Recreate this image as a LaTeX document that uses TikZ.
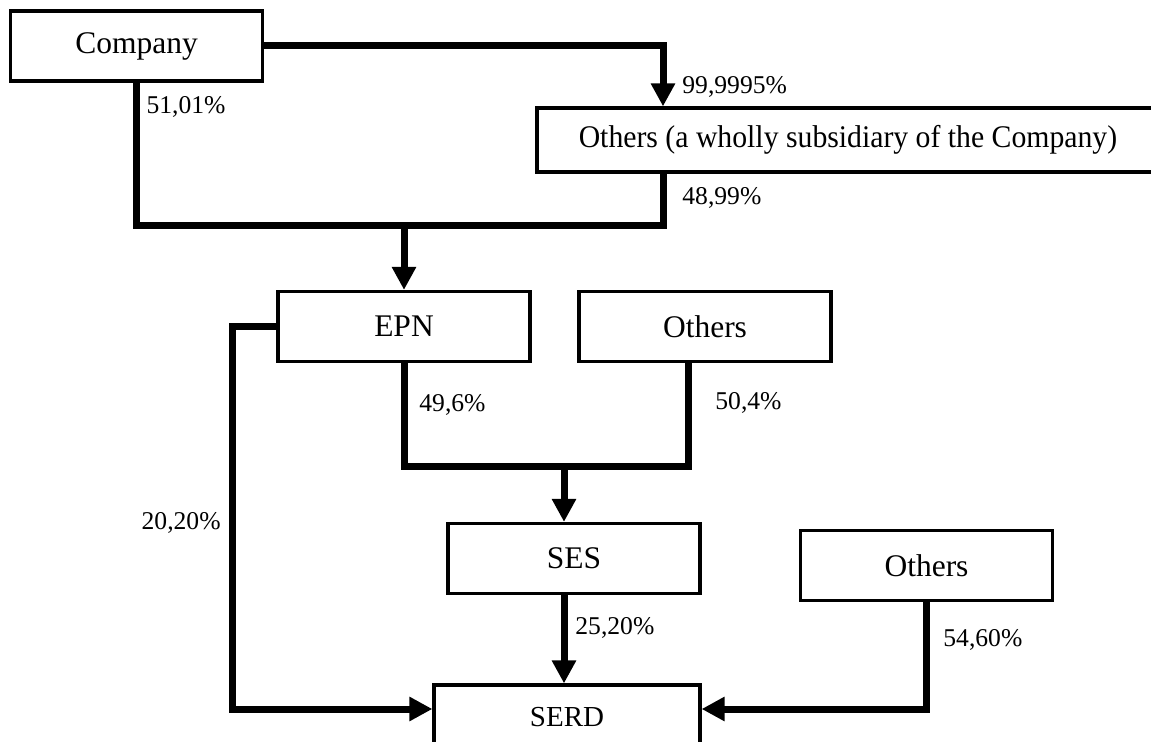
\documentclass[tikz,border=0pt]{standalone}
\usepackage{fontspec}
\usepackage{graphicx}
\setmainfont{Liberation Serif}
\usetikzlibrary{arrows.meta}

\begin{document}
\begin{tikzpicture}[x=0.5pt,y=-0.5pt,
  box/.style={draw, line width=1.6pt, minimum width=126pt, minimum height=35pt, inner sep=0pt, font=\fontsize{15.75}{18}\selectfont},
  link/.style={line width=3.5pt},
  arr/.style={link, -{Triangle[length=11.5pt,width=11.5pt]}},
  pct/.style={inner sep=0pt, font=\fontsize{12.8}{15}\selectfont}]
\useasboundingbox (0,0) rectangle (1151,742);
\clip (0,0) rectangle (1151,742);

\node[box] (company) at (136.5,46) {Company};
\node[box, minimum width=311pt, minimum height=32pt] (sub) at (848,140) {\scalebox{0.944}[1]{Others (a wholly subsidiary of the Company)}};
\node[box] (epn) at (404,326.5) {EPN};
\node[box] (others) at (705,326.5) {Others};
\node[box] (ses) at (574,558.5) {SES};
\node[box] (othersb) at (926.5,565.5) {Others};
\node[box, minimum width=133pt, minimum height=32pt, font=\fontsize{14.5}{17}\selectfont] (serd) at (567,717) {SERD};

\coordinate (j1) at (663,226);
\coordinate (j2) at (688,467);
\coordinate (j3) at (232,709);
\coordinate (sesx) at ([xshift=-5pt]ses.north);

\draw[arr] (company.east) -| (sub.north -| j1);
\draw[link] (company.south) |- (j1) -- (sub.south -| j1);
\draw[arr] (epn.north |- j1) -- (epn.north);
\draw[link] (epn.south) |- (j2) -- (others.south -| j2);
\draw[arr] (sesx |- j2) -- (sesx);
\draw[arr] (sesx |- ses.south) -- (sesx |- serd.north);
\draw[arr] (epn.west) -| (j3) -- (serd.west |- j3);
\draw[arr] (othersb.south) |- (serd.east |- j3);

\node[pct] (p5101) at (186,107) {51,01\%};
\node[pct, anchor=west] (p9999) at (682,87) {99,9995\%};
\node[pct, anchor=west] (p4899) at (682,198) {48,99\%};
\node[pct, anchor=west] (p496) at (419,405) {49,6\%};
\node[pct, anchor=west] (p504) at (715,403) {50,4\%};
\node[pct, anchor=east] (p2020) at (221,523) {20,20\%};
\node[pct, anchor=west] (p2520) at (575,628) {25,20\%};
\node[pct, anchor=west] (p5460) at (943,640) {54,60\%};
\end{tikzpicture}
\end{document}
